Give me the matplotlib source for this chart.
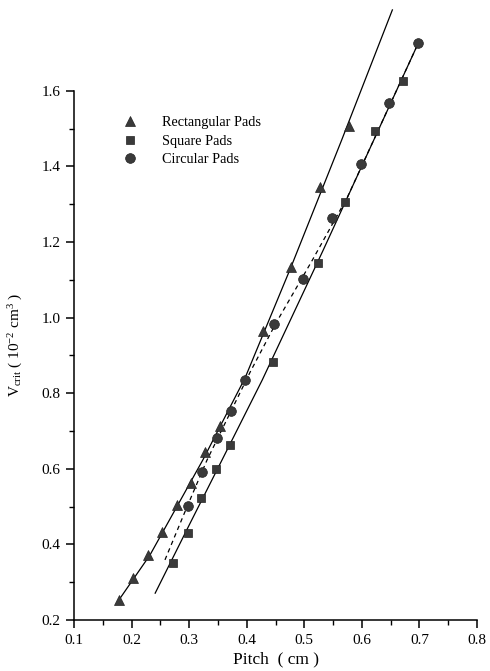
import matplotlib
matplotlib.use("Agg")
import matplotlib.pyplot as plt
from matplotlib.ticker import MultipleLocator

# ─── Data ────────────────────────────────────────────────────────────────────

rect_x = [0.178, 0.203, 0.229, 0.253, 0.279, 0.303, 0.328, 0.354, 0.429, 0.477, 0.528, 0.578]
rect_y = [0.253, 0.311, 0.372, 0.433, 0.504, 0.562, 0.644, 0.713, 0.965, 1.134, 1.346, 1.507]

square_x = [0.272, 0.298, 0.321, 0.347, 0.371, 0.446, 0.523, 0.571, 0.622, 0.672]
square_y = [0.351, 0.430, 0.523, 0.600, 0.663, 0.883, 1.144, 1.306, 1.494, 1.626]

circle_x = [0.298, 0.323, 0.349, 0.373, 0.397, 0.448, 0.498, 0.549, 0.598, 0.648, 0.698]
circle_y = [0.502, 0.592, 0.681, 0.753, 0.835, 0.983, 1.103, 1.263, 1.406, 1.567, 1.727]

# fitted curves as drawn in the figure
rect_fit_x = [0.178, 0.232, 0.324, 0.397, 0.477, 0.565, 0.653]
rect_fit_y = [0.253, 0.372, 0.624, 0.840, 1.134, 1.470, 1.814]

square_fit_x = [0.241, 0.302, 0.357, 0.427, 0.533, 0.698]
square_fit_y = [0.271, 0.457, 0.623, 0.835, 1.179, 1.726]

circle_fit_x = [0.258, 0.297, 0.331, 0.406, 0.451, 0.514, 0.575, 0.698]
circle_fit_y = [0.359, 0.502, 0.623, 0.856, 0.986, 1.152, 1.319, 1.726]

# ─── Style ───────────────────────────────────────────────────────────────────

plt.rcParams["font.family"] = ["Liberation Serif", "DejaVu Serif"]
plt.rcParams["mathtext.fontset"] = "custom"
plt.rcParams["mathtext.rm"] = "Liberation Serif"
plt.rcParams["mathtext.it"] = "Liberation Serif:italic"

MK = "#3a3a3a"
EDGE = "#222222"

fig = plt.figure(figsize=(4.9, 6.71), dpi=100)
ax = fig.add_axes([74 / 490, 51 / 671, 403 / 490, 612 / 671])

# curves
ax.plot(rect_fit_x, rect_fit_y, color="black", lw=0.9)
ax.plot(square_fit_x, square_fit_y, color="black", lw=0.9)
ax.plot(circle_fit_x, circle_fit_y, color="black", lw=0.9, linestyle=(0, (3.5, 3.0)))

# markers
ax.plot(rect_x, rect_y, "^", ms=7.5, color=MK, mec=EDGE, mew=0.5,
        ls="none", label="Rectangular Pads")
ax.plot(square_x, square_y, "s", ms=6.3, color=MK, mec=EDGE, mew=0.5,
        ls="none", label="Square Pads")
ax.plot(circle_x, circle_y, "o", ms=7, color=MK, mec=EDGE, mew=0.5,
        ls="none", label="Circular Pads")

# axes
ax.set_xlim(0.1, 0.8)
ax.set_ylim(0.2, 0.2 + 612 / 378)
ax.spines["top"].set_visible(False)
ax.spines["right"].set_visible(False)
ax.spines["left"].set_bounds(0.2, 1.6)
for s in ("left", "bottom"):
    ax.spines[s].set_linewidth(1.1)

ax.set_xticks([0.1, 0.2, 0.3, 0.4, 0.5, 0.6, 0.7, 0.8])
ax.set_xticklabels(["0.1", "0.2", "0.3", "0.4", "0.5", "0.6", "0.7", "0.8"])
ax.set_yticks([0.2, 0.4, 0.6, 0.8, 1.0, 1.2, 1.4, 1.6])
ax.set_yticklabels(["0.2", "0.4", "0.6", "0.8", "1.0", "1.2", "1.4", "1.6"])
ax.xaxis.set_minor_locator(MultipleLocator(0.05))
ax.set_yticks([0.3, 0.5, 0.7, 0.9, 1.1, 1.3, 1.5], minor=True)
ax.tick_params(which="major", direction="out", length=6, width=1.1, labelsize=11)
ax.tick_params(axis="x", which="major", pad=4)
ax.tick_params(axis="y", which="major", pad=3.5)
ax.tick_params(which="minor", direction="out", length=3.5, width=1.0)

ax.set_xlabel("Pitch  ( cm )", fontsize=12.5)
ax.xaxis.set_label_coords(0.5, -0.052)
ax.set_ylabel(r"V$_{\rm crit}$ ( 10$^{-2}$ cm$^3$ )", fontsize=11)
ax.yaxis.set_label_coords(-0.122, 0.45)

ax.legend(loc="upper left", bbox_to_anchor=(123 / 490, 1 - 116 / 671),
          bbox_transform=fig.transFigure, frameon=False, fontsize=10.3,
          handlelength=1.0, handletextpad=1.75, labelspacing=0.4,
          borderpad=0, borderaxespad=0, numpoints=1)

plt.savefig("out.png", dpi=100)
plt.close()
